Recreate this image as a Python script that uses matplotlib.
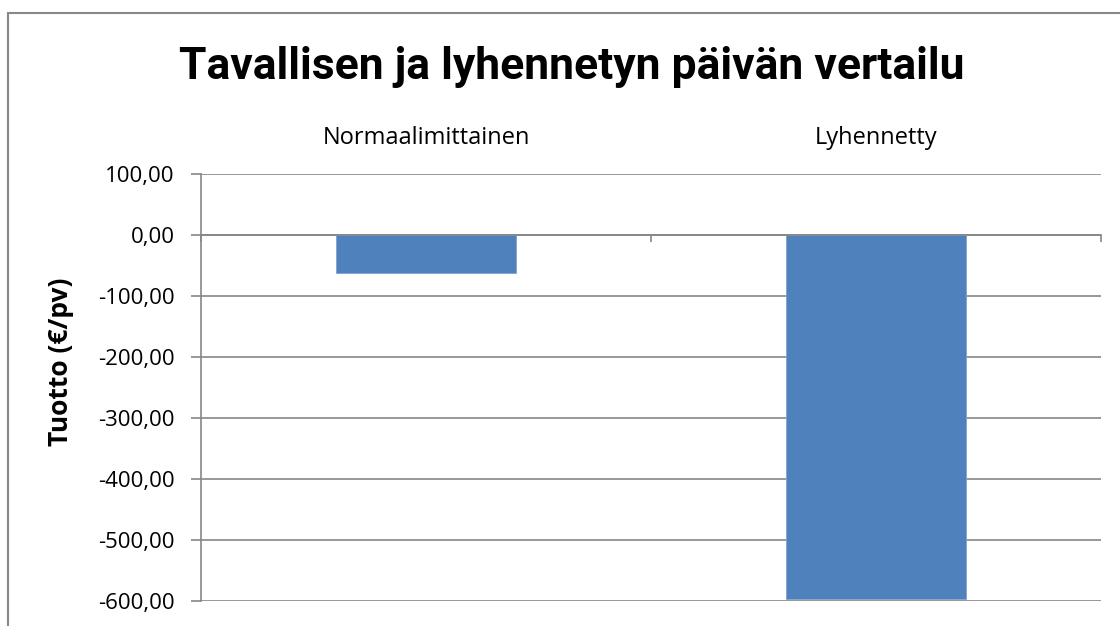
import matplotlib.pyplot as plt
from matplotlib.patches import Rectangle
from matplotlib.ticker import FixedLocator, FuncFormatter

categories = ["Normaalimittainen", "Lyhennetty"]
values = [-62.0, -597.0]
yticks = [100, 0, -100, -200, -300, -400, -500, -600]

grid_col = "#868686"
bar_col = "#4F81BD"

fig = plt.figure(figsize=(11.2, 6.26), dpi=100)
ax = fig.add_axes([201 / 1120, 25 / 626, 900 / 1120, 427 / 626])

x = range(len(categories))
ax.bar(x, values, width=0.4, color=bar_col, edgecolor="#7FA3CF", linewidth=0.6, zorder=3)

ax.set_xlim(-0.5, len(categories) - 0.5)
ax.set_ylim(-600, 100)
ax.set_yticks(yticks)
ax.yaxis.set_major_formatter(FuncFormatter(lambda v, p: f"{v:.2f}".replace(".", ",")))
ax.yaxis.grid(True, color=grid_col, linewidth=1.2, zorder=0)

for s in ["top", "right"]:
    ax.spines[s].set_visible(False)
ax.spines["left"].set_color(grid_col)
ax.spines["left"].set_linewidth(1.2)
ax.spines["bottom"].set_position(("data", 0))
ax.spines["bottom"].set_color(grid_col)
ax.spines["bottom"].set_linewidth(1.2)
ax.spines["bottom"].set_zorder(4)

ax.tick_params(axis="y", length=7, width=1.2, color=grid_col, pad=12,
               labelsize=16)
for t in ax.get_yticklabels():
    t.set_fontfamily("Open Sans")

# category labels above the plot, boundary ticks on the zero line
ax.set_xticks(list(x))
ax.set_xticklabels(categories, fontfamily="Open Sans", fontsize=17)
ax.tick_params(axis="x", which="major", bottom=False, top=False,
               labelbottom=False, labeltop=True, pad=14)
ax.xaxis.set_minor_locator(FixedLocator([-0.5, 0.5, 1.5]))
ax.tick_params(axis="x", which="minor", bottom=True, length=5, width=1.2,
               color=grid_col, direction="out")

ax.set_ylabel("Tuotto (€/pv)", fontsize=19, fontweight="bold", fontfamily="Open Sans")
ax.yaxis.set_label_coords(-0.141, 0.56)

fig.text(572 / 1120, 1 - 79 / 626, "Tavallisen ja lyhennetyn päivän vertailu",
         ha="center", va="baseline", fontsize=32, fontweight="bold",
         fontfamily=["Roboto", "DejaVu Sans"])

fig.patches.append(Rectangle((8 / 1120, -0.1), 1.2, 1 - 13 / 626 + 0.1,
                             transform=fig.transFigure, fill=False,
                             edgecolor="#888888", linewidth=1.5))

fig.savefig("out.png", dpi=100)
